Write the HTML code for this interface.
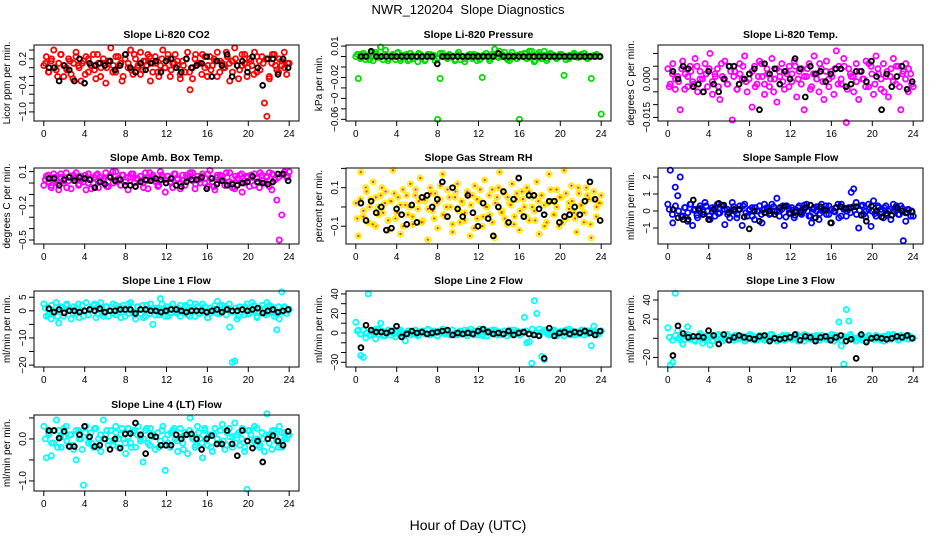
<!DOCTYPE html>
<html><head><meta charset="utf-8"><style>
html,body{margin:0;padding:0;background:#fff}
svg{display:block;font-family:"Liberation Sans",sans-serif}
</style></head><body>
<svg id="chart" width="936" height="540" viewBox="0 0 936 540" xmlns="http://www.w3.org/2000/svg">
<text x="468" y="14" text-anchor="middle" font-size="13" style="white-space:pre">NWR_120204  Slope Diagnostics</text>
<text x="468" y="530" text-anchor="middle" font-size="14">Hour of Day (UTC)</text>
</svg>
<script>
const xTicks=[0,4,8,12,16,20,24];
const p1=[0.05,0.25,-0.1,0.15,0.4,-0.05,0.1,0.3,-0.2,0.0,0.2,-0.15,0.1,0.35,0.05,-0.3,0.15,0.25,-0.1,0.05,0.3,-0.25,0.1,0.0,0.2,-0.35,0.15,0.45,0.05,-0.1,0.25,0.1,-0.2,0.3,0.0,0.4,-0.15,0.2,0.05,0.35,-0.05,0.15,0.3,-0.3,0.1,0.25,-0.1,0.05,0.4,0.0,0.2,-0.2,0.1,0.3,0.05,-0.15,0.15,-0.1,0.35,-0.5,-0.25,0.2,0.1,0.1,0.3,0.0,-0.2,0.25,0.05,0.15,0.35,-0.1,0.1,0.0,0.25,-0.3,0.15,0.45,0.05,-0.05,0.3,0.1,-0.2,0.2,0.05,0.35,-0.1,0.15,0.25,-0.8,-1.1,-0.25,0.1,0.3,-0.05,0.2,0.05,0.35,-0.15,0.1];
const q1=[0.1,-0.1,0.2,0.0,-0.2,0.3,0.05,-0.05,0.15,-0.25,0.25,0.0,0.1,-0.15,0.2,0.05,-0.05,0.3,-0.2,0.1,0.0,0.15,-0.1,0.25,0.05,-0.3,0.2,0.1,-0.05,0.3,0.0,-0.15,0.15,0.05,0.25,-0.1,0.1,-0.2,0.2,0.0,0.3,-0.05,0.1,0.15,-0.25,0.05,0.2,-0.1,0.0,0.3,0.1,-0.15,0.25,0.05,-0.05,0.2,-0.2,0.15,0.0,0.35,0.1,-0.1,0.2,-0.25,0.05,0.3,0.0,0.15,-0.15,0.25,-0.05,0.1,0.2,-0.2,0.3,0.05,-0.1,0.15,0.0,0.1];
const b1=[0.0,0.0,-0.3,0.05,-0.05,-0.3,0.2,-0.35,0.1,0.05,0.1,0.05,0.15,-0.05,0.05,0.3,0.0,-0.1,0.1,-0.05,0.1,0.15,-0.1,0.15,0.2,0.0,-0.1,0.2,0.0,0.05,0.1,0.25,-0.2,0.15,0.05,0.3,-0.2,0.05,0.15,-0.1,0.25,0.0,-0.4,0.2,0.2,-0.15,0.2,0.0];
const p2=[0,-0.021,0.002,0.001,-0.003,0,0.003,-0.004,0.002,0,0.009,-0.003,0.006,-0.002,0,0.002,-0.003,0.004,-0.004,0.001,0,-0.004,0.003,-0.002,0,-0.005,0.002,0,-0.003,0.001,0.002,0,-0.004,-0.06,-0.021,0.003,0,-0.002,0.001,0,-0.004,0.002,-0.003,0,-0.005,0,0.002,-0.002,0,0.001,-0.003,-0.02,0.001,0,-0.004,0.002,0.007,0,0.005,0.002,0,-0.002,-0.004,0.004,0,0.001,-0.06,0,0.003,-0.002,0.005,0.005,-0.005,0.001,0.004,-0.002,0.005,-0.004,0.002,0,0.001,-0.002,0,0.002,-0.018,0,-0.002,0.001,0.003,0,0.001,0.002,0,0.001,-0.001,-0.021,0,0.001,0,-0.055];
const q2=[0.002,-0.002,0.003,0,-0.003,0.001,0.004,-0.001,0,0.002,-0.004,0.001,0,0.003,-0.002,0,0.002,-0.003,0.001,0,0.003,-0.001,-0.004,0.002,0,0.001,-0.002,0.003,0,-0.001,0.002,0,-0.003,0.004,0,-0.002,0.001,0,0.002,-0.004,0,0.001,0.003,-0.002,0,0.002,-0.001,0,0.004,-0.003,0.001,0,-0.002,0.002,0,0.003,-0.001,0,-0.004,0.002,0,0.001,-0.002,0.003,0,-0.001,0.002,0,-0.003,0.001,0,0.002,-0.001,0,0.003,-0.002,0,0.001,0.002,0];
const b2=[0,0,0.005,0,0,0,0,0,0,0,0,0,0,0,0,-0.007,0,0,0,0,0,0,0,0,0,0,0,0.003,0,0,0,0,0,0,0,0,0,0,0,0,0,0,0,0,0,0,0,0];
const p3=[0.004,-0.002,0.006,-0.004,0.001,-0.012,0.007,0.002,-0.003,0.005,-0.001,0.008,-0.005,0.003,0.0,0.006,-0.003,0.01,-0.006,0.002,0.004,-0.008,0.001,0.007,-0.002,0.005,-0.016,0.003,-0.004,0.006,0.0,0.009,-0.005,0.002,-0.011,0.005,-0.002,0.007,0.001,-0.006,0.004,-0.003,0.008,0.0,-0.009,0.003,0.006,-0.004,0.002,0.005,-0.001,0.007,-0.007,0.003,0.004,-0.012,0.001,0.006,-0.003,0.009,0.002,-0.005,0.004,-0.008,0.007,0.0,0.003,-0.006,0.011,0.005,-0.002,0.008,-0.017,0.004,0.001,-0.005,0.006,-0.008,0.003,0.0,0.007,-0.003,0.005,-0.006,0.009,0.002,-0.004,0.006,0.001,-0.007,0.004,0.008,-0.002,0.005,-0.012,0.003,0.006,-0.005,0.002,-0.003];
const q3=[-0.003,0.002,0.0,-0.001,0.004,-0.004,0.001,0.003,-0.002,0.005,0.0,-0.005,0.002,0.004,-0.001,0.001,-0.003,0.006,0.0,-0.002,0.003,0.001,-0.004,0.002,0.005,-0.001,0.0,0.003,-0.003,0.001,0.006,-0.002,0.002,0.0,-0.005,0.004,0.001,-0.001,0.003,-0.003,0.002,0.005,0.0,-0.002,0.001,0.004,-0.004,0.002,0.0,0.006,-0.001,0.003,-0.003,0.001,0.004,-0.002,0.0,0.005,-0.004,0.002,0.001,-0.001,0.003,0.0,-0.003,0.006,0.002,-0.002,0.004,0.0,-0.005,0.003,0.001,-0.001,0.005,-0.003,0.002,0.0,0.004,-0.002];
const b3=[0.003,0.0,0.005,0.004,-0.003,-0.002,-0.005,0.003,-0.002,-0.005,0.0,0.005,0.005,-0.002,0.0,0.002,0.004,-0.012,0.006,0.002,0.004,-0.002,0.003,0.0,0.008,0.004,-0.007,0.005,0.002,0.003,-0.001,0.002,0.004,0.004,-0.003,-0.002,0.003,0.003,-0.001,0.007,0.001,-0.012,0.002,-0.003,0.001,0.005,-0.004,-0.001];
const p4=[-0.02,0.06,0.01,-0.04,0.08,0.03,-0.06,0.05,0.0,0.09,0.02,-0.05,0.07,0.04,-0.02,0.06,0.01,-0.06,0.08,0.03,0.0,0.07,-0.04,0.05,0.02,0.09,-0.03,0.06,0.0,0.1,0.04,-0.02,0.07,0.01,-0.06,0.05,0.08,-0.03,0.03,0.06,0.0,0.09,-0.05,0.04,0.07,0.02,-0.03,0.1,0.05,-0.08,0.06,0.01,-0.04,0.08,0.03,0.0,0.07,-0.02,0.05,0.09,0.02,-0.05,0.06,0.0,0.08,0.04,-0.03,0.11,0.01,-0.06,0.07,0.03,0.06,-0.02,0.05,0.09,0.0,-0.05,0.04,0.07,-0.08,0.02,0.06,-0.03,0.05,0.08,0.01,-0.04,0.07,0.0,0.05,0.09,-0.06,0.03,-0.15,-0.5,-0.28,0.08,0.05,0.1];
const q4=[0.03,0.07,-0.02,0.05,0.0,0.08,0.02,-0.04,0.06,0.04,0.09,-0.01,0.03,0.07,0.0,-0.05,0.05,0.08,0.02,0.04,-0.03,0.06,0.1,0.01,0.03,0.07,-0.02,0.05,0.08,0.0,0.04,0.06,-0.04,0.02,0.09,0.05,0.01,-0.02,0.07,0.03,0.06,0.0,0.08,0.04,-0.05,0.02,0.07,0.05,0.09,-0.01,0.03,0.06,0.0,0.08,0.04,-0.03,0.05,0.07,0.02,0.09,0.01,-0.04,0.06,0.03,0.08,0.0,0.05,0.07,-0.02,0.04,0.09,0.02,0.06,-0.03,0.08,0.03,0.05,0.07,0.1,0.06];
const b4=[0.04,0.04,-0.02,0.03,0.05,0.02,0.05,0.04,0.03,-0.04,0.01,-0.01,0.05,0.02,0.03,-0.02,-0.02,-0.03,0.01,0.03,0.02,0.04,0.03,0.0,0.04,-0.02,-0.03,0.01,0.03,0.03,0.05,-0.05,0.04,-0.01,0.02,-0.02,-0.01,-0.02,0.0,0.01,0.06,0.01,0.0,-0.01,0.01,0.08,0.08,0.02];
const p5=[0.02,-0.15,0.18,-0.05,0.1,-0.08,0.04,0.13,-0.1,0.0,0.06,-0.03,0.08,-0.12,0.03,0.19,-0.06,0.05,-0.14,0.09,0.01,-0.04,0.12,-0.09,0.06,-0.01,0.15,-0.07,0.03,-0.17,0.1,-0.02,0.07,-0.11,0.04,0.17,-0.05,0.09,0.0,-0.13,0.05,0.12,-0.08,0.02,-0.03,0.08,-0.15,0.06,0.11,-0.06,0.03,-0.1,0.14,0.0,-0.04,0.09,-0.16,0.05,0.18,-0.02,0.07,-0.09,0.02,0.12,-0.05,0.04,-0.12,0.08,0.0,0.1,-0.07,0.05,-0.02,0.13,-0.14,0.06,0.01,-0.08,0.17,0.03,-0.04,0.09,-0.1,0.05,0.19,-0.06,0.02,0.11,-0.03,-0.13,0.07,0.0,-0.08,0.1,0.04,-0.16,0.08,-0.05,0.02,0.06];
const q5=[-0.06,0.04,-0.02,0.08,0.0,-0.09,0.05,-0.04,0.1,0.02,-0.07,0.03,0.07,-0.03,0.01,-0.1,0.06,0.0,-0.05,0.09,0.03,-0.08,0.04,-0.01,0.07,-0.06,0.02,0.11,-0.04,0.0,0.05,-0.09,0.08,-0.02,0.03,-0.07,0.06,0.01,-0.11,0.04,0.09,-0.05,0.0,0.06,-0.08,0.02,0.1,-0.03,-0.06,0.05,0.01,-0.09,0.07,-0.02,0.04,-0.05,0.08,0.0,-0.07,0.03,0.06,-0.1,0.02,0.09,-0.04,0.0,0.05,-0.08,0.07,-0.01,0.03,-0.06,0.1,0.01,-0.03,0.06,-0.09,0.04,0.0,0.02];
const b5=[0.02,-0.07,0.03,-0.03,0.0,-0.12,-0.11,-0.01,-0.04,-0.09,0.01,-0.08,0.05,0.06,0.0,0.04,0.13,-0.05,0.1,-0.01,-0.05,0.06,-0.03,-0.1,0.02,-0.06,-0.15,0.0,0.08,-0.08,0.04,0.15,-0.05,0.06,0.06,-0.01,-0.04,0.03,0.03,-0.08,-0.05,-0.04,0.0,-0.04,0.03,0.13,0.04,-0.07];
const p6=[0.4,2.4,-0.7,1.4,0.9,2.0,-0.3,0.2,-0.6,0.4,-0.85,0.1,-0.4,0.3,-0.2,0.5,0.0,-0.5,0.2,-0.3,0.4,-0.1,0.3,-0.8,0.1,-0.4,0.5,0.0,-0.2,0.3,-0.85,0.4,-0.3,0.1,0.2,-0.5,0.0,0.3,-0.7,0.1,0.2,-0.2,0.4,0.0,0.75,-0.3,0.1,-0.85,0.3,-0.1,0.2,-0.4,0.0,0.3,-0.2,0.1,0.4,-0.3,-0.7,0.2,0.0,-0.5,0.4,0.1,-0.2,0.3,-0.7,0.0,0.2,-0.4,0.4,0.1,-0.3,0.2,1.1,1.3,0.5,-1.0,0.3,-0.2,0.0,0.4,-0.9,0.6,-0.3,0.2,0.1,-0.4,0.3,0.0,-0.5,0.4,0.1,-0.2,0.3,-1.75,-0.6,0.1,-0.3,-0.3];
const q6=[0.1,-0.2,0.3,0.0,-0.35,0.2,-0.1,0.4,0.05,-0.25,0.15,-0.05,0.3,-0.3,0.0,0.2,-0.15,0.35,0.1,-0.2,0.0,0.25,-0.4,0.1,0.3,-0.1,0.05,-0.3,0.2,0.0,-0.2,0.4,0.1,-0.15,0.25,-0.05,0.0,0.3,-0.35,0.15,0.05,-0.25,0.2,-0.1,0.35,0.0,-0.3,0.1,0.25,-0.15,0.0,0.3,-0.2,0.1,-0.05,0.4,-0.3,0.15,0.0,-0.1,0.25,-0.2,0.05,0.35,-0.35,0.1,0.0,-0.15,0.3,-0.05,0.2,-0.25,0.1,0.0,0.3,-0.2,0.15,-0.1,0.05,0.0];
const b6=[0.1,-0.4,-0.5,-0.5,0.65,0.1,-0.2,-0.5,0.1,0.45,0.35,-0.1,0.1,0.1,-0.35,-1.05,0.0,-0.6,-0.1,0.0,-0.2,0.2,0.3,-0.15,-0.05,-0.05,0.2,0.35,-0.4,0.25,0.05,-0.7,0.2,0.25,0.15,0.2,0.25,-0.25,-0.6,0.3,0.0,-0.35,-0.15,-0.25,0.2,0.0,-0.1,-0.05];
const p7=[2.5,-2,0.5,-3,-1,3,-4.5,1,-2,2,0.5,-3,1.5,-1,2.5,0,-2,3,-1.5,1,2,-2.5,0.5,3,-1,1.5,-2,0,2.5,-1.5,1,-2.5,2,0,-1,3,-0.5,-3,1.5,-1,2,-2,0.5,2.5,-5,-1.5,1,4.5,0,-2,1.5,-1,2.5,-0.5,1,-2,0,2,-1.5,3,0.5,-2,1.5,-1,2.5,0,-2.5,1,-0.5,2,3.5,-1,2,0.5,1,-6,-19,-18.5,-3,1.5,0.5,-1.5,2.5,-1,3,0,-2,1,2,-1,3,-0.5,1.5,-2,-7,-3,7,1.5,-1,0.5];
const q7=[1,-1.5,2,0,-2,1.5,-0.5,2.5,0.5,-1,1,-2.5,2,0,-1.5,1,2.5,-1,0.5,-2,1.5,0,-1,2,-0.5,1,-2,2.5,0,-1.5,1.5,0.5,-2.5,2,-1,0,1,-1.5,2.5,0.5,-2,1,0,-1,2,-0.5,1.5,-2,0.5,2.5,-1,0,1.5,-2.5,1,0.5,-1,2,0,-1.5,2.5,-0.5,1,-2,0.5,1.5,-1,0,2,-2.5,1,0.5,-1.5,2,0,-1,1.5,-0.5,1,0];
const b7=[0.8,-0.5,0.5,-0.8,0,0,-0.5,0,0.5,0,0.8,-0.5,0,0,0.5,0.5,0.5,-1,0.5,0.5,0,0,-0.5,0,0.5,0.5,0,-0.5,0,0,0,-0.5,0,0.5,-0.5,0.5,0,0,0.5,0,0.5,1,-0.8,0,0.5,-0.5,0,0.5];
const p8=[11,3,-23,-25,-5,40,-2,2,-6,4,10,-3,1,3,-2,2,-4,1,3,-1,-8,2,-2,1,3,-3,0,2,-1,3,-2,1,0,-3,2,4,-1,1,-2,3,0,-2,2,-1,3,-3,1,0,2,-2,4,-1,1,-3,2,0,3,-2,1,-1,2,-3,3,0,-1,2,-2,1,16,-10,-9,-31,33,20,4,-24,-27,2,-2,1,3,-1,0,2,-3,1,4,-2,0,1,-1,3,-2,0,2,-13,7,1,-1,2];
const q8=[2,-1,3,0,-2,1,4,-1,2,-3,0,2,-1,3,1,-2,0,2,-1,3,-2,1,0,4,-1,2,-3,1,0,2,-1,3,-2,0,1,-1,2,4,-2,0,1,-3,2,0,3,-1,1,-2,2,0,-1,3,1,-2,0,2,-1,4,0,-2,1,3,-1,0,2,-3,1,0,3,-1,2,-2,0,1,3,-1,2,0,-2,1];
const b8=[-15,8,3,1,1,0,2,7,-4,-1,2,0,1,-1,0,1,2,3,-2,0,-1,0,-1,2,4,1,-1,0,-1,2,-2,0,1,-1,-2,-3,-26,5,-3,0,1,-1,1,0,2,0,-2,2];
const p9=[11,-28,-25,47,8,-2,-6,3,12,-1,2,-3,1,5,-5,2,-2,-7,3,1,-1,2,-3,0,4,-2,1,3,-1,2,0,-3,2,4,-1,1,-2,3,0,-2,2,-1,4,0,-3,1,2,-2,3,0,-1,2,4,-2,1,-3,3,0,2,-1,1,-2,3,0,-1,2,4,-3,1,17,-8,-27,30,18,2,-1,-3,1,3,0,-2,2,0,-1,3,1,-2,2,0,4,-1,2,1,-2,3,0,2,-1,1,0];
const q9=[1,-2,3,0,2,-1,4,0,-2,1,3,-1,0,2,-3,1,4,0,-1,2,1,-2,3,0,2,-1,0,3,-2,1,2,0,-1,4,1,-2,0,3,-1,2,0,1,-3,2,4,0,-1,1,3,-2,0,2,1,-1,3,0,-2,2,1,4,-1,0,2,-2,1,3,0,-1,2,1,-3,2,0,4,1,-1,2,0,3,1];
const b9=[-18,13,5,1,2,2,1,8,3,-6,4,-2,1,3,1,0,-1,2,3,-3,0,-1,0,1,4,-2,2,1,-3,1,2,-2,1,3,-3,-1,-21,4,-4,0,1,0,-1,0,2,1,3,0];
const p10=[0.3,-0.45,0.1,-0.4,-0.1,0.45,0.2,-0.2,0.05,0.3,-0.15,0.1,-0.25,-0.5,0.2,0.0,-1.1,0.3,-0.1,0.15,-0.2,0.25,0.0,-0.3,0.45,0.1,-0.15,0.2,-0.05,0.3,-0.2,0.1,0.0,-0.35,0.25,-0.1,0.15,-0.2,0.3,0.0,-0.55,0.2,-0.1,0.25,0.05,-0.25,0.15,-0.05,0.3,-0.75,0.1,-0.2,0.2,0.0,-0.3,0.25,-0.1,0.15,-0.35,0.5,0.05,-0.2,0.3,0.0,-0.45,0.2,-0.15,0.1,-0.3,0.25,0.0,-0.1,0.35,-0.25,0.15,0.05,-0.2,0.38,0.1,-0.15,0.25,-0.3,-1.2,0.2,-0.1,0.3,0.0,-0.2,0.15,-0.3,0.6,0.1,-0.25,0.2,-0.05,0.3,-0.2,0.15,0.0,0.1];
const q10=[0.0,0.15,-0.1,0.2,-0.2,0.05,0.25,-0.05,0.1,-0.15,0.2,0.0,-0.25,0.15,0.05,-0.1,0.25,-0.2,0.1,0.0,0.2,-0.05,-0.15,0.15,0.0,0.25,-0.1,0.05,-0.2,0.2,0.1,-0.05,0.0,0.25,-0.15,0.1,0.05,-0.2,0.2,0.0,-0.1,0.15,0.25,-0.05,0.05,-0.25,0.1,0.2,0.0,-0.15,0.15,-0.1,0.25,0.05,-0.2,0.1,0.0,0.2,-0.05,-0.15,0.25,0.05,-0.1,0.15,0.0,-0.2,0.2,0.1,-0.05,0.25,-0.15,0.0,0.1,-0.1,0.2,0.05,-0.2,0.15,0.0,0.1];
const b10=[0.2,0.2,0.02,0.18,-0.18,-0.18,0.1,0.3,0.05,-0.18,-0.15,0.0,-0.25,0.0,-0.22,0.12,0.13,0.38,0.1,-0.35,0.08,0.05,-0.15,-0.15,-0.15,0.1,0.0,0.1,0.12,0.0,-0.25,0.0,0.08,-0.12,-0.12,0.2,-0.12,-0.4,0.2,-0.05,-0.22,-0.05,-0.55,0.0,0.08,-0.05,-0.15,0.18];

const panels=[
 {name:'co2',title:'Slope Li-820 CO2',ylab:'Licor ppm per min.',col:0,row:0,y0:-1.206,y1:0.514,ticks:[0.4,0.2,0,-0.2,-0.4,-0.6,-0.8,-1.0],labels:{'0.2':'0.2','-0.4':'−0.4','-1':'−1.0'},p:p1,q:q1,b:b1,c:'#ff0000'},
 {name:'pressure',title:'Slope Li-820 Pressure',ylab:'kPa per min.',col:1,row:0,y0:-0.0616,y1:0.011,ticks:[0.01,0,-0.01,-0.02,-0.03,-0.04,-0.05,-0.06],labels:{'0.01':'0.01','-0.02':'−0.02','-0.04':'−0','-0.06':'−0.06'},p:p2,q:q2,b:b2,c:'#00dd00'},
 {name:'temp',title:'Slope Li-820 Temp.',ylab:'degrees C per min.',col:2,row:0,y0:-0.0164,y1:0.0133,ticks:[0.01,0.005,0,-0.005,-0.01,-0.015],labels:{'0':'0.000','-0.015':'−0.015'},p:p3,q:q3,b:b3,c:'#ff00ff'},
 {name:'amb-box-temp',title:'Slope Amb. Box Temp.',ylab:'degrees C per min.',col:0,row:1,y0:-0.535,y1:0.132,ticks:[0.1,0,-0.1,-0.2,-0.3,-0.4,-0.5],labels:{'0.1':'0.1','-0.2':'−0.2','-0.5':'−0.5'},p:p4,q:q4,b:b4,c:'#ff00ff'},
 {name:'gas-rh',title:'Slope Gas Stream RH',ylab:'percent per min.',col:1,row:1,y0:-0.192,y1:0.202,ticks:[0.2,0.1,0,-0.1],labels:{'0.1':'0.1','-0.1':'−0.1'},p:p5,q:q5,b:b5,c:'#ffee00',dot:'#ff3300'},
 {name:'sample-flow',title:'Slope Sample Flow',ylab:'ml/min per min.',col:2,row:1,y0:-1.94,y1:2.53,ticks:[2,1,0,-1],labels:{'2':'2','1':'1','0':'0','-1':'−1'},p:p6,q:q6,b:b6,c:'#0000ff'},
 {name:'line1-flow',title:'Slope Line 1 Flow',ylab:'ml/min per min.',col:0,row:2,y0:-20.7,y1:7.3,ticks:[5,0,-5,-10,-15,-20],labels:{'5':'5','0':'0','-10':'−10','-20':'−20'},p:p7,q:q7,b:b7,c:'#00ffff'},
 {name:'line2-flow',title:'Slope Line 2 Flow',ylab:'ml/min per min.',col:1,row:2,y0:-34.8,y1:43,ticks:[40,30,20,10,0,-10,-20,-30],labels:{'40':'40','20':'20','0':'0','-30':'−30'},p:p8,q:q8,b:b8,c:'#00ffff'},
 {name:'line3-flow',title:'Slope Line 3 Flow',ylab:'ml/min per min.',col:2,row:2,y0:-30,y1:49.4,ticks:[40,20,0,-20],labels:{'40':'40','20':'20','-20':'−20'},p:p9,q:q9,b:b9,c:'#00ffff'},
 {name:'line4-flow',title:'Slope Line 4 (LT) Flow',ylab:'ml/min per min.',col:0,row:3,y0:-1.24,y1:0.57,ticks:[0.5,0,-0.5,-1.0],labels:{'0':'0.0','-1':'−1.0'},p:p10,q:q10,b:b10,c:'#00ffff'}
];
const NS='http://www.w3.org/2000/svg';
const svg=document.getElementById('chart');
function mk(tag,attrs,parent){const e=document.createElementNS(NS,tag);for(const k in attrs)e.setAttribute(k,attrs[k]);(parent||svg).appendChild(e);return e;}
const colL=[34,346,658],rowT=[45,168,291,415],W=265,H=76;
panels.forEach(P=>{
 const L=colL[P.col],T=rowT[P.row],R=L+W,B=T+H;
 const g=mk('g',{});
 
 
 const xs=h=>L+(h+0.96)/25.92*W;
 const ys=v=>T+(P.y1-v)/(P.y1-P.y0)*H;
 const t=mk('text',{x:(L+R)/2,y:T-7,'text-anchor':'middle','font-size':'10.5','font-weight':'bold'},g);t.textContent=P.title;
 
 
 const yl=mk('text',{transform:`translate(${L-24},${(T+B)/2}) rotate(-90)`,'text-anchor':'middle','font-size':'10'},g);yl.textContent=P.ylab;
 
 
 const pts=mk('g',{},g);
 
 
 const drawPt=(hr,v)=>{
  const cx=xs(hr),cy=ys(v);
  const c=mk('circle',{cx:cx,cy:cy,r:2.6,fill:'none',stroke:P.c,'stroke-width':1.8},pts);
  
  
  if(P.dot){const d=mk('circle',{cx:cx,cy:cy,r:1.2,fill:P.dot},pts);
   
   }
 };
 const n=P.p.length;
 P.p.forEach((v,i)=>drawPt(i*24/(n-1),v));
 const k=P.q.length;
 P.q.forEach((v,i)=>drawPt(0.15+i*23.7/(k-1),v));
 const bp=mk('g',{},g);
 
 
 const m=P.b.length;
 P.b.forEach((v,i)=>{
  const c=mk('circle',{cx:xs(0.5+i*23.4/(m-1)),cy:ys(v),r:2.4,fill:'none',stroke:'#000','stroke-width':1.9},bp);
  
  
 });
 const box=mk('rect',{x:L,y:T,width:W,height:H,fill:'none',stroke:'#000','stroke-width':1},g);
 
 
 const xa=mk('g',{},g);
 
 
 xTicks.forEach(h=>{
  const x=xs(h);
  mk('line',{x1:x,x2:x,y1:B,y2:B+5,stroke:'#000'},xa);
  const tl=mk('text',{x:x,y:B+16,'text-anchor':'middle','font-size':'10'},xa);tl.textContent=h;
  
  
 });
 const ya=mk('g',{},g);
 
 
 P.ticks.forEach(v=>{
  const y=ys(v);
  mk('line',{x1:L-5,x2:L,y1:y,y2:y,stroke:'#000'},ya);
  const key=String(+v.toFixed(6));
  if(P.labels[key]!==undefined){
   const tl=mk('text',{transform:`translate(${L-8},${y}) rotate(-90)`,'text-anchor':'middle','font-size':'10'},ya);tl.textContent=P.labels[key];
   
   
  }
 });
});
</script>
</body></html>
